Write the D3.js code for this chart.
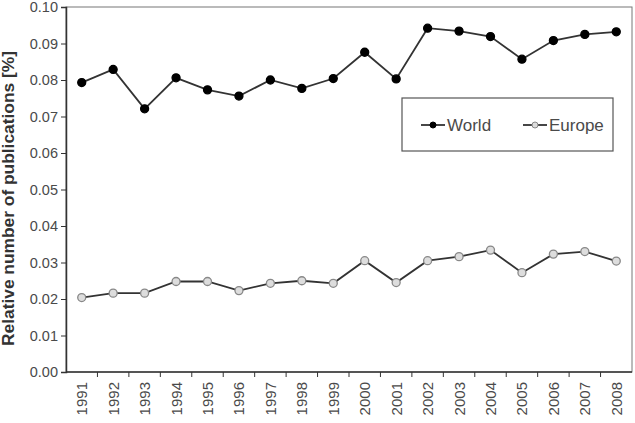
<!DOCTYPE html>
<html><head><meta charset="utf-8">
<script src="https://cdn.jsdelivr.net/npm/d3@7/dist/d3.min.js"></script>
<style>body{margin:0;background:#fff}</style>
</head><body>
<script>
const years = ["1991","1992","1993","1994","1995","1996","1997","1998","1999","2000","2001","2002","2003","2004","2005","2006","2007","2008"];
const world = [0.0793,0.0829,0.0721,0.0806,0.0773,0.0756,0.0800,0.0777,0.0804,0.0876,0.0803,0.0942,0.0934,0.0919,0.0857,0.0908,0.0925,0.0932];
const europe = [0.0204,0.0216,0.0216,0.0248,0.0248,0.0223,0.0243,0.0250,0.0243,0.0305,0.0245,0.0305,0.0316,0.0334,0.0272,0.0323,0.0330,0.0304];
const yTicks = [0,0.01,0.02,0.03,0.04,0.05,0.06,0.07,0.08,0.09,0.10];
const seriesNames = ["World","Europe"];

const W=635,H=423, L=66, R=632, T=7, B=372;
const svg=d3.select("body").append("svg").attr("width",W).attr("height",H)
  .style("font-family","'Liberation Sans', Arial, sans-serif");
const x=d3.scaleBand().domain(years).range([L,R]);
const y=d3.scaleLinear().domain([0,0.10]).range([B,T]);
const ink="#4a4a4a";

// frame
svg.append("rect").attr("x",L).attr("y",T).attr("width",R-L).attr("height",B-T)
  .attr("fill","none").attr("stroke","#777").attr("stroke-width",1);

// y axis
const ya=svg.append("g").attr("transform",`translate(${L},0)`)
  .call(d3.axisLeft(y).tickValues(yTicks).tickFormat(d3.format(".2f")).tickSize(5).tickPadding(3));
ya.select(".domain").attr("stroke","#333").attr("stroke-width",1.5);
ya.selectAll(".tick line").attr("stroke","#333");
ya.selectAll("text").attr("font-size",14.5).attr("fill",ink);

// x axis with ticks between categories
const xa=svg.append("g").attr("transform",`translate(0,${B})`);
xa.append("line").attr("x1",L).attr("x2",R).attr("stroke","#333").attr("stroke-width",1.5);
xa.selectAll("line.t").data(years.slice(1)).join("line").attr("class","t")
  .attr("x1",d=>x(d)).attr("x2",d=>x(d)).attr("y1",0).attr("y2",5).attr("stroke","#333");
xa.selectAll("text").data(years).join("text")
  .attr("transform",d=>`translate(${x(d)+x.bandwidth()/2+5.5},10) rotate(-90)`)
  .attr("text-anchor","end").attr("font-size",15).attr("fill",ink).text(d=>d);

// y title
svg.append("text").attr("transform",`translate(13.5,${(T+B)/2+9}) rotate(-90)`)
  .attr("text-anchor","middle").attr("font-size",17).attr("font-weight","bold").attr("fill","#333")
  .attr("textLength",295).attr("lengthAdjust","spacingAndGlyphs")
  .text("Relative number of publications [%]");

const cx=d=>x(d)+x.bandwidth()/2;
const line=d3.line().x((d,i)=>cx(years[i])).y(d=>y(d));
function series(data, fill, stroke){
  svg.append("path").datum(data).attr("d",line).attr("fill","none").attr("stroke","#333").attr("stroke-width",1.8);
  svg.selectAll(null).data(data).join("circle").attr("cx",(d,i)=>cx(years[i])).attr("cy",d=>y(d))
    .attr("r",4).attr("fill",fill).attr("stroke",stroke).attr("stroke-width",1.3);
}
series(world,"#000","#000");
series(europe,"#ddd","#888");

// legend
const lg=svg.append("g");
lg.append("rect").attr("x",402).attr("y",98).attr("width",211).attr("height",53)
  .attr("fill","#fff").attr("stroke","#555").attr("stroke-width",1.2);
const items=[{n:seriesNames[0],x:421,fill:"#000",stroke:"#000"},{n:seriesNames[1],x:523,fill:"#ddd",stroke:"#888"}];
items.forEach(it=>{
  lg.append("line").attr("x1",it.x).attr("x2",it.x+24).attr("y1",125).attr("y2",125).attr("stroke","#333").attr("stroke-width",1.8);
  lg.append("circle").attr("cx",it.x+12).attr("cy",125).attr("r",3).attr("fill",it.fill).attr("stroke",it.stroke);
  lg.append("text").attr("x",it.x+26).attr("y",131).attr("font-size",17).attr("fill",ink).text(it.n);
});
</script>
</body></html>
